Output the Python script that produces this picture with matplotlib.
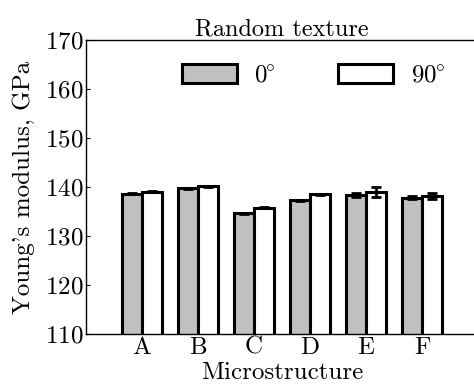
import matplotlib
matplotlib.use("Agg")
import matplotlib.pyplot as plt
import numpy as np

plt.rcParams["font.family"] = "serif"
plt.rcParams["font.serif"] = ["cmr10"]
plt.rcParams["mathtext.fontset"] = "cm"
plt.rcParams["axes.formatter.use_mathtext"] = True
plt.rcParams["font.size"] = 18

categories = ["A", "B", "C", "D", "E", "F"]
mod_0 = [138.6, 139.7, 134.6, 137.3, 138.4, 137.8]
err_0 = [0.1, 0.1, 0.15, 0.1, 0.4, 0.3]
mod_90 = [139.0, 140.2, 135.8, 138.5, 138.9, 138.2]
err_90 = [0.1, 0.1, 0.1, 0.1, 1.0, 0.6]
yticks = [110, 120, 130, 140, 150, 160, 170]

fig = plt.figure(figsize=(4.74, 3.85), dpi=100)
ax = fig.add_axes([0.1814, 0.1325, 0.827, 0.7636])

x = np.arange(len(categories))
w = 0.36
ekw = dict(ecolor="black", elinewidth=2, capsize=3.5, capthick=2)
ax.bar(x - w / 2, mod_0, w, yerr=err_0, color="#c0c0c0", edgecolor="black",
       linewidth=2.2, label=r"$0^{\!\!\circ}$", error_kw=ekw)
ax.bar(x + w / 2, mod_90, w, yerr=err_90, color="white", edgecolor="black",
       linewidth=2.2, label=r"$90^{\!\!\circ}$", error_kw=ekw)

ax.set_xlim(-1, 6)
ax.set_ylim(110, 170)
ax.set_yticks(yticks)
ax.set_xticks(x)
ax.set_xticklabels(categories)
ax.tick_params(axis="x", length=0, pad=2)
ax.tick_params(axis="y", direction="in", length=3, pad=2)
ax.spines["right"].set_visible(False)
for s in ["left", "top", "bottom"]:
    ax.spines[s].set_linewidth(1)

ax.set_title("Random texture", fontsize=17.5, pad=3)
ax.set_xlabel("Microstructure", labelpad=2.5)
ax.set_ylabel("Young's modulus, GPa", labelpad=7)
ax.legend(ncol=2, frameon=False, loc="upper right", bbox_to_anchor=(0.972, 0.995),
          handlelength=2.2, handleheight=0.8, handletextpad=0.7,
          columnspacing=2.5)

fig.savefig("out.png", dpi=100)
